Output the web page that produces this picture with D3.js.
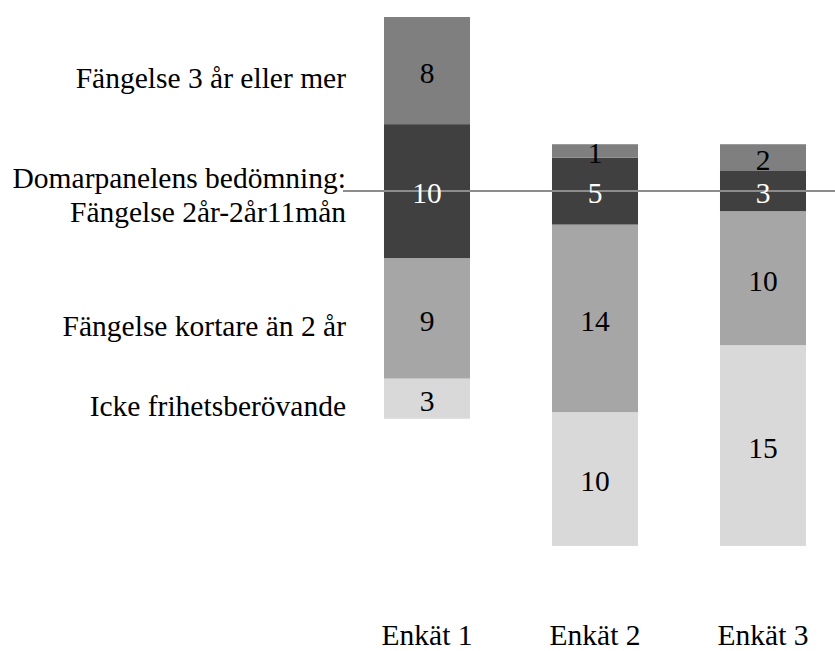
<!DOCTYPE html>
<html>
<head>
<meta charset="utf-8">
<script src="https://cdn.jsdelivr.net/npm/d3@7"></script>
<style>
  body { margin: 0; background: #fff; }
</style>
</head>
<body>
<div id="chart"></div>
<script>
var surveys = ['Enkät 1', 'Enkät 2', 'Enkät 3']
var categories = ['Icke frihetsberövande', 'Fängelse kortare än 2 år', 'Domarpanelens bedömning: Fängelse 2år-2år11mån', 'Fängelse 3 år eller mer']
var ickeFrihet = [3, 10, 15]
var kortare = [9, 14, 10]
var domarpanel = [10, 5, 3]
var treArEllerMer = [8, 1, 2]

var w = 835, h = 651
var colors = ['#d9d9d9', '#a6a6a6', '#404040', '#7f7f7f']
var series = [ickeFrihet, kortare, domarpanel, treArEllerMer]
var serif = 'Liberation Serif'
var fs = 29.5

// each bar is centred on the middle of the "domarpanel" segment
var rows = surveys.map(function(s, i) {
  var start = -(ickeFrihet[i] + kortare[i] + domarpanel[i] / 2)
  var segs = series.map(function(vals, k) {
    var seg = { survey: s, cat: k, value: vals[i], y0: start, y1: start + vals[i] }
    start += vals[i]
    return seg
  })
  return segs
})
var segments = d3.merge(rows)

var svg = d3.select('#chart')
  .append('svg')
  .attr('width', w)
  .attr('height', h)

var x = d3.scaleBand()
  .domain(surveys)
  .range([343, 847])
  .paddingInner(0.488)
  .paddingOuter(0.244)

var y = d3.scaleLinear()
  .domain([d3.min(segments, d => d.y0), d3.max(segments, d => d.y1)])
  .range([546, 17])

svg.selectAll('.seg')
  .data(segments)
  .enter()
  .append('rect')
  .attr('class', 'seg')
  .attr('x', d => x(d.survey))
  .attr('width', x.bandwidth())
  .attr('y', d => y(d.y1))
  .attr('height', d => y(d.y0) - y(d.y1))
  .attr('fill', d => colors[d.cat])

// reference line at the judges' assessment
svg.append('line')
  .attr('x1', 343)
  .attr('x2', w)
  .attr('y1', y(0))
  .attr('y2', y(0))
  .attr('stroke', '#8c8c8c')
  .attr('stroke-width', 2)

svg.selectAll('.val')
  .data(segments)
  .enter()
  .append('text')
  .attr('class', 'val')
  .attr('x', d => x(d.survey) + x.bandwidth() / 2)
  .attr('y', d => y((d.y0 + d.y1) / 2))
  .attr('dy', '0.42em')
  .attr('text-anchor', 'middle')
  .attr('font-family', serif)
  .attr('font-size', fs)
  .attr('fill', d => d.cat === 2 ? '#fff' : '#000')
  .text(d => d.value)

// category labels to the left, next to Enkät 1
var first = rows[0]
var catLabels = svg.selectAll('.cat')
  .data(first)
  .enter()
  .append('text')
  .attr('class', 'cat')
  .attr('x', 346)
  .attr('text-anchor', 'end')
  .attr('font-family', serif)
  .attr('font-size', fs)
  .attr('y', d => y((d.y0 + d.y1) / 2))

catLabels.each(function(d) {
  var t = d3.select(this)
  if (d.cat === 2) {
    t.append('tspan').attr('x', 346).attr('dy', '-0.1em').text('Domarpanelens bedömning:')
    t.append('tspan').attr('x', 346).attr('dy', '1.15em').text('Fängelse 2år-2år11mån')
  } else {
    t.attr('dy', '0.6em').text(categories[d.cat])
  }
})

svg.selectAll('.xlab')
  .data(surveys)
  .enter()
  .append('text')
  .attr('class', 'xlab')
  .attr('x', d => x(d) + x.bandwidth() / 2)
  .attr('y', 645)
  .attr('text-anchor', 'middle')
  .attr('font-family', serif)
  .attr('font-size', fs)
  .text(d => d)
</script>
</body>
</html>
